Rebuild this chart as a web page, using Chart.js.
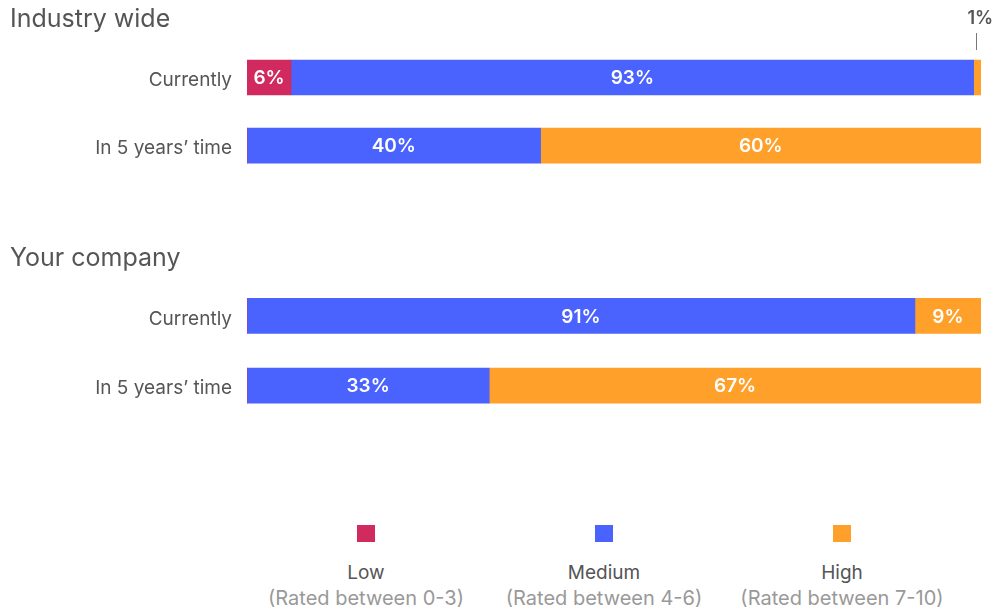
<!DOCTYPE html>
<html>
<head>
<meta charset="utf-8">
<script src="https://cdn.jsdelivr.net/npm/chart.js@4"></script>
<style>
  body { margin: 0; width: 993px; height: 608px; overflow: hidden; background: #fff; font-family: Inter, "Noto Sans", sans-serif; color: #555; position: relative; }
  .titulo { position: absolute; left: 10px; font-size: 25px; z-index: 2; }
  .caja { position: absolute; left: 0; width: 993px; }
  .leyenda { position: absolute; top: 525px; width: 260px; text-align: center; }
  .leyenda .cuadro { width: 18px; height: 17px; margin: 0 auto; }
  .leyenda .nombre { margin-top: 19px; font-size: 19px; color: #555; line-height: 24px; }
  .leyenda .sub { font-size: 20px; color: #999; line-height: 26px; }
</style>
</head>
<body>
<div class="titulo" style="top:3px">Industry wide</div>
<div class="titulo" style="top:242px">Your company</div>
<div class="caja" style="top:0;height:206px"><canvas id="grafico1"></canvas></div>
<div class="caja" style="top:240px;height:207px"><canvas id="grafico2"></canvas></div>
<div id="leyenda"></div>
<script>
  // datos
  const categorias = ["Currently", "In 5 years\u2019 time"];
  const industriaBajo = [6, 0];
  const industriaMedio = [93, 40];
  const industriaAlto = [1, 60];
  const empresaBajo = [0, 0];
  const empresaMedio = [91, 33];
  const empresaAlto = [9, 67];

  const nombres = ["Low", "Medium", "High"];
  const subtitulos = ["(Rated between 0-3)", "(Rated between 4-6)", "(Rated between 7-10)"];
  const colores = ["#D12A5F", "#4A63FF", "#FFA02A"];

  const fuente = 'Inter, "Noto Sans", sans-serif';

  // etiquetas dentro de cada segmento; las muy chicas van arriba con una linea
  const etiquetas = {
    id: "etiquetas",
    afterDatasetsDraw(chart) {
      const ctx = chart.ctx;
      ctx.save();
      ctx.textAlign = "center";
      ctx.textBaseline = "middle";
      chart.data.datasets.forEach((ds, i) => {
        const meta = chart.getDatasetMeta(i);
        meta.data.forEach((bar, j) => {
          const v = ds.data[j];
          if (!v) return;
          const x = (bar.x + bar.base) / 2;
          if (v < 3) {
            ctx.fillStyle = "#555";
            ctx.font = "600 18px " + fuente;
            ctx.fillText(v + "%", x + 3, bar.y - bar.height / 2 - 41);
            ctx.strokeStyle = "#777";
            ctx.lineWidth = 1;
            ctx.beginPath();
            ctx.moveTo(Math.round(x) - 0.5, bar.y - bar.height / 2 - 27);
            ctx.lineTo(Math.round(x) - 0.5, bar.y - bar.height / 2 - 10);
            ctx.stroke();
          } else {
            ctx.fillStyle = "#fff";
            ctx.font = "600 19px " + fuente;
            ctx.fillText(v + "%", x, bar.y + 1);
          }
        });
      });
      ctx.restore();
    }
  };

  const crearGrafico = (id, bajo, medio, alto, relleno) => {
    const series = [bajo, medio, alto];
    new Chart(document.getElementById(id), {
      type: "bar",
      data: {
        labels: categorias,
        datasets: series.map((d, i) => ({
          label: nombres[i],
          data: d,
          backgroundColor: colores[i],
          barThickness: 35,
          borderWidth: 0
        }))
      },
      options: {
        indexAxis: "y",
        responsive: true,
        maintainAspectRatio: false,
        animation: false,
        layout: { padding: { top: relleno[0], bottom: relleno[1], right: 12, left: 0 } },
        plugins: { legend: { display: false }, tooltip: { enabled: false } },
        scales: {
          x: { stacked: true, min: 0, max: 100, display: false },
          y: {
            stacked: true,
            grid: { display: false, drawTicks: false },
            border: { display: false },
            ticks: { padding: 15, labelOffset: 3, color: "#555", font: { family: fuente, size: 19 } },
            afterFit: (scale) => { scale.width = 247; }
          }
        }
      },
      plugins: [etiquetas]
    });
  };

  crearGrafico("grafico1", industriaBajo, industriaMedio, industriaAlto, [43.5, 3.5]);
  crearGrafico("grafico2", empresaBajo, empresaMedio, empresaAlto, [41, 21]);

  // leyenda propia
  const centros = [366, 604, 842];
  const leyenda = document.getElementById("leyenda");
  nombres.forEach((n, i) => {
    const el = document.createElement("div");
    el.className = "leyenda";
    el.style.left = (centros[i] - 130) + "px";
    el.innerHTML = `<div class="cuadro" style="background:${colores[i]}"></div>
      <div class="nombre">${n}</div><div class="sub">${subtitulos[i]}</div>`;
    leyenda.appendChild(el);
  });
</script>
</body>
</html>
